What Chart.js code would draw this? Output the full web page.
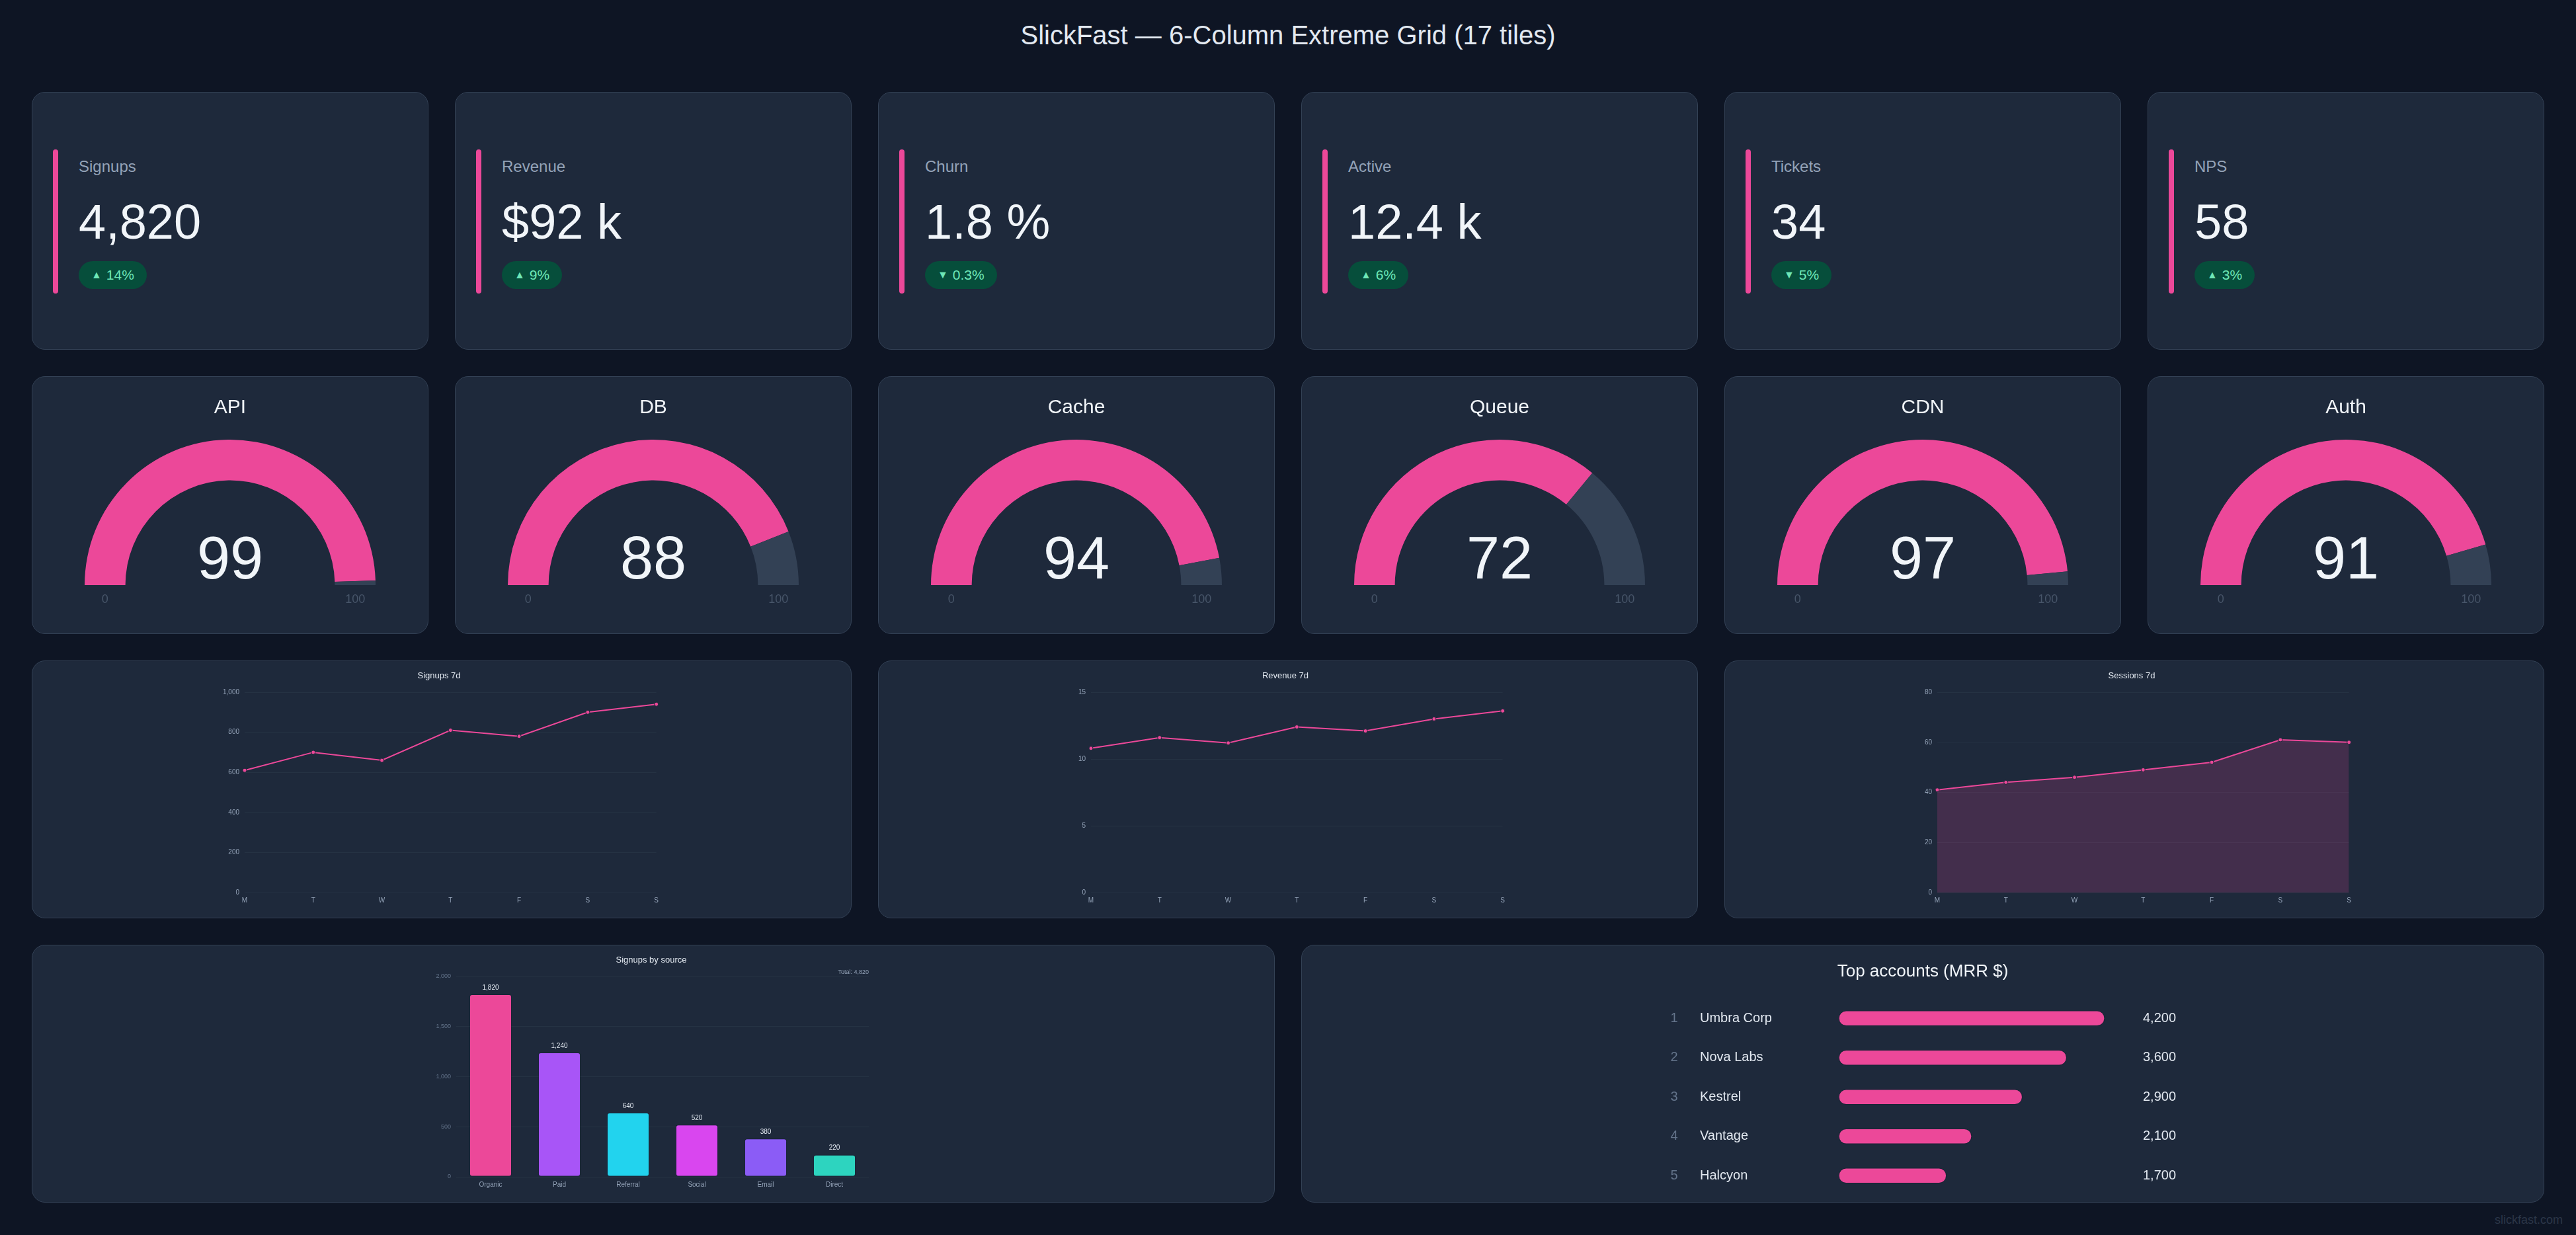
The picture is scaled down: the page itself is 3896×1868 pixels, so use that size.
<!DOCTYPE html>
<html>
<head>
<meta charset="utf-8">
<title>SlickFast — 6-Column Extreme Grid (17 tiles)</title>
<script src="https://cdn.jsdelivr.net/npm/chart.js@4.4.1/dist/chart.umd.min.js"></script>
<style>
  html, body { margin: 0; padding: 0; background: #0e1524; }
  body { width: 3896px; height: 1868px; position: relative; overflow: hidden;
         font-family: "Liberation Sans", Arial, Helvetica, sans-serif; }
  #pageTitle { position: absolute; left: 0; right: 0; top: 33px; text-align: center;
               font-size: 40px; line-height: 40px; color: #e2e8f0; }
  #grid { position: absolute; left: 48px; top: 139px; display: grid;
          grid-template-columns: repeat(6, 600px); grid-auto-rows: 390px;
          column-gap: 40px; row-gap: 40px; }
  .tile { position: relative; box-sizing: border-box; background: #1e293b;
          border: 1px solid #334155; border-radius: 20px; }
  .span2 { grid-column: span 2; }
  .span3 { grid-column: span 3; }
  .tile canvas { position: absolute; }
  .kbar { position: absolute; left: 31px; top: 86px; width: 8px; height: 218px;
          border-radius: 4px; background: #ec4899; }
  .klabel { position: absolute; left: 70px; top: 98px; font-size: 24px; line-height: 28px; color: #94a3b8; }
  .kvalue { position: absolute; left: 70px; top: 159px; font-size: 74px; line-height: 74px; color: #f1f5f9; white-space: nowrap; }
  .kbadge { position: absolute; left: 70px; top: 255px; height: 42px; box-sizing: border-box;
            padding: 0 19px; border-radius: 21px; background: #064e3b; color: #6ee7b7;
            font-size: 21px; display: flex; align-items: center; white-space: nowrap; }
  .kbadge .arr { font-size: 16px; margin-right: 7px; }
  #footer { position: absolute; right: 20px; top: 1836px; font-size: 18px; line-height: 18px; color: #2b3648; }
</style>
</head>
<body>
<div id="pageTitle">SlickFast — 6-Column Extreme Grid (17 tiles)</div>
<div id="grid"></div>
<div id="footer">slickfast.com</div>
<script>
// ---------------- DATA ----------------
const kpiLabels = ['Signups', 'Revenue', 'Churn', 'Active', 'Tickets', 'NPS'];
const kpiValues = ['4,820', '$92 k', '1.8 %', '12.4 k', '34', '58'];
const kpiDeltas = ['14%', '9%', '0.3%', '6%', '5%', '3%'];
const kpiDirections = ['up', 'up', 'down', 'up', 'down', 'up'];

const gaugeLabels = ['API', 'DB', 'Cache', 'Queue', 'CDN', 'Auth'];
const gaugeValues = [99, 88, 94, 72, 97, 91];
const gaugeRange = [0, 100];

const days = ['M', 'T', 'W', 'T', 'F', 'S', 'S'];
const signups7d = [610, 700, 660, 810, 780, 900, 940];
const revenue7d = [10.8, 11.6, 11.2, 12.4, 12.1, 13.0, 13.6];
const sessions7d = [41, 44, 46, 49, 52, 61, 60];
const signupsTicks = [0, 200, 400, 600, 800, 1000];
const revenueTicks = [0, 5, 10, 15];
const sessionsTicks = [0, 20, 40, 60, 80];

const sources = ['Organic', 'Paid', 'Referral', 'Social', 'Email', 'Direct'];
const sourceValues = [1820, 1240, 640, 520, 380, 220];
const sourceColors = ['#ec4899', '#a855f7', '#22d3ee', '#d946ef', '#8b5cf6', '#2dd4bf'];
const sourceTicks = [0, 500, 1000, 1500, 2000];
const sourceTotalLabel = 'Total: 4,820';

const accounts = ['Umbra Corp', 'Nova Labs', 'Kestrel', 'Vantage', 'Halcyon'];
const accountMRR = [4200, 3600, 2900, 2100, 1700];

// ---------------- SETUP ----------------
const FONT = '"Liberation Sans", Arial, Helvetica, sans-serif';
Chart.defaults.font.family = FONT;
Chart.defaults.animation = false;
Chart.defaults.plugins.legend.display = false;
Chart.defaults.plugins.tooltip.enabled = false;
const PINK = '#ec4899';
const fmt = v => v.toLocaleString('en-US');

const grid = document.getElementById('grid');
function makeTile(cls) {
  const t = document.createElement('div');
  t.className = 'tile' + (cls ? ' ' + cls : '');
  grid.appendChild(t);
  return t;
}
function makeCanvas(tile, left, top, w, h) {
  const c = document.createElement('canvas');
  c.width = w; c.height = h;
  c.style.left = left + 'px'; c.style.top = top + 'px';
  c.style.width = w + 'px'; c.style.height = h + 'px';
  tile.appendChild(c);
  return c;
}

// ---------------- KPI TILES ----------------
kpiLabels.forEach((lab, i) => {
  const t = makeTile();
  const bar = document.createElement('div'); bar.className = 'kbar'; t.appendChild(bar);
  const l = document.createElement('div'); l.className = 'klabel'; l.textContent = lab; t.appendChild(l);
  const v = document.createElement('div'); v.className = 'kvalue'; v.textContent = kpiValues[i]; t.appendChild(v);
  const b = document.createElement('div'); b.className = 'kbadge';
  const a = document.createElement('span'); a.className = 'arr';
  a.textContent = kpiDirections[i] === 'up' ? '▲' : '▼';
  b.appendChild(a);
  b.appendChild(document.createTextNode(kpiDeltas[i]));
  t.appendChild(b);
});

// ---------------- GAUGES ----------------
const gaugeText = {
  id: 'gaugeText',
  afterDraw(chart, args, opts) {
    const ctx = chart.ctx;
    const arc = chart.getDatasetMeta(0).data[0];
    const cx = arc.x, cy = arc.y;
    const mid = (arc.outerRadius + arc.innerRadius) / 2;
    ctx.save();
    ctx.textAlign = 'center';
    ctx.fillStyle = '#f1f5f9';
    ctx.textBaseline = 'middle';
    ctx.font = '30px ' + FONT;
    ctx.fillText(opts.title, cx, 47);
    ctx.textBaseline = 'alphabetic';
    ctx.font = '90px ' + FONT;
    ctx.fillText(String(opts.value), cx, cy - 10);
    ctx.textBaseline = 'middle';
    ctx.font = '18px ' + FONT;
    ctx.fillStyle = '#475569';
    ctx.fillText(String(opts.min), cx - mid, cy + 22);
    ctx.fillText(String(opts.max), cx + mid, cy + 22);
    ctx.restore();
  }
};
gaugeLabels.forEach((lab, i) => {
  const t = makeTile();
  const c = makeCanvas(t, 0, 0, 598, 388);
  new Chart(c, {
    type: 'doughnut',
    data: {
      labels: ['value', 'rest'],
      datasets: [{
        data: [gaugeValues[i], gaugeRange[1] - gaugeValues[i]],
        backgroundColor: [PINK, '#334155'],
        borderWidth: 0
      }]
    },
    options: {
      responsive: false,
      rotation: -90,
      circumference: 180,
      cutout: '72%',
      layout: { padding: { left: 79, right: 79, top: 95, bottom: 73 } },
      plugins: { gaugeText: { title: lab, value: gaugeValues[i], min: gaugeRange[0], max: gaugeRange[1] } }
    },
    plugins: [gaugeText]
  });
});

// ---------------- LINE CHARTS ----------------
function lineChart(title, values, ticks, filled) {
  const t = makeTile('span2');
  const c = makeCanvas(t, 285, 0, 668, 388);
  new Chart(c, {
    type: 'line',
    data: {
      labels: days,
      datasets: [{
        data: values,
        borderColor: PINK,
        borderWidth: 2,
        pointRadius: 3,
        pointBackgroundColor: PINK,
        pointBorderColor: '#1e293b',
        pointBorderWidth: 1,
        tension: 0,
        fill: filled ? 'origin' : false,
        backgroundColor: 'rgba(236,72,153,0.18)'
      }]
    },
    options: {
      responsive: false,
      layout: { padding: { left: 0, right: 8, top: 0, bottom: 18 } },
      plugins: {
        title: { display: true, text: title, color: '#e2e8f0',
                 font: { size: 13, weight: 'normal' }, padding: { top: 15, bottom: 16.4 } }
      },
      scales: {
        x: {
          grid: { display: false, drawTicks: false }, border: { display: false },
          ticks: { color: '#94a3b8', font: { size: 10 }, padding: 6, maxRotation: 0, autoSkip: false },
          afterFit(s) { s.height = 20; }
        },
        y: {
          min: ticks[0], max: ticks[ticks.length - 1],
          ticks: { stepSize: ticks[1] - ticks[0], color: '#94a3b8', font: { size: 10 }, padding: 8 },
          grid: { color: 'rgba(148,163,184,0.07)', drawTicks: false }, border: { display: false },
          afterFit(s) { s.width = 36; }
        }
      }
    }
  });
}
lineChart('Signups 7d', signups7d, signupsTicks, false);
lineChart('Revenue 7d', revenue7d, revenueTicks, false);
lineChart('Sessions 7d', sessions7d, sessionsTicks, true);

// ---------------- BAR CHART ----------------
const barValues = {
  id: 'barValues',
  afterDatasetsDraw(chart) {
    const ctx = chart.ctx;
    const meta = chart.getDatasetMeta(0);
    ctx.save();
    ctx.font = '10px ' + FONT;
    ctx.fillStyle = '#e2e8f0';
    ctx.textAlign = 'center';
    ctx.textBaseline = 'middle';
    meta.data.forEach((el, i) => {
      ctx.fillText(fmt(chart.data.datasets[0].data[i]), el.x, el.y - 10);
    });
    ctx.restore();
  }
};
{
  const t = makeTile('span3');
  const c = makeCanvas(t, 607, 0, 664, 388);
  new Chart(c, {
    type: 'bar',
    data: {
      labels: sources,
      datasets: [{
        data: sourceValues,
        backgroundColor: sourceColors,
        borderColor: 'rgba(15,23,42,0.35)',
        borderWidth: 1,
        borderRadius: 4,
        borderSkipped: false,
        categoryPercentage: 0.8,
        barPercentage: 0.77
      }]
    },
    options: {
      responsive: false,
      layout: { padding: { left: 0, right: 6, top: 0, bottom: 18 } },
      plugins: {
        title: { display: true, text: 'Signups by source', color: '#e2e8f0',
                 font: { size: 13, weight: 'normal' }, padding: { top: 15, bottom: 2 } },
        subtitle: { display: true, text: sourceTotalLabel, align: 'end', color: '#94a3b8',
                    font: { size: 9 }, padding: { top: 2.6, bottom: 0.7 } }
      },
      scales: {
        x: {
          grid: { display: false, drawTicks: false }, border: { display: false },
          ticks: { color: '#94a3b8', font: { size: 10 }, padding: 6, maxRotation: 0, autoSkip: false },
          afterFit(s) { s.height = 20; }
        },
        y: {
          min: sourceTicks[0], max: sourceTicks[sourceTicks.length - 1],
          ticks: { stepSize: sourceTicks[1] - sourceTicks[0], color: '#64748b', font: { size: 9 }, padding: 8 },
          grid: { color: 'rgba(148,163,184,0.07)', drawTicks: false }, border: { display: false },
          afterFit(s) { s.width = 34; }
        }
      }
    },
    plugins: [barValues]
  });
}

// ---------------- TOP ACCOUNTS ----------------
const accountsText = {
  id: 'accountsText',
  afterDatasetsDraw(chart) {
    const ctx = chart.ctx;
    const area = chart.chartArea;
    const meta = chart.getDatasetMeta(0);
    ctx.save();
    ctx.textBaseline = 'middle';
    ctx.fillStyle = '#f1f5f9';
    ctx.textAlign = 'center';
    ctx.font = '26px ' + FONT;
    ctx.fillText('Top accounts (MRR $)', chart.width / 2, 40);
    ctx.font = '20px ' + FONT;
    meta.data.forEach((el, i) => {
      ctx.textAlign = 'center';
      ctx.fillStyle = '#64748b';
      ctx.fillText(String(i + 1), area.left - 249, el.y);
      ctx.textAlign = 'left';
      ctx.fillStyle = '#e2e8f0';
      ctx.fillText(chart.data.labels[i], area.left - 210, el.y);
      ctx.fillText(fmt(chart.data.datasets[0].data[i]), area.right + 58, el.y);
    });
    ctx.restore();
  }
};
{
  const t = makeTile('span3');
  const c = makeCanvas(t, 0, 0, 1878, 388);
  new Chart(c, {
    type: 'bar',
    data: {
      labels: accounts,
      datasets: [{
        data: accountMRR,
        backgroundColor: PINK,
        borderColor: 'rgba(15,23,42,0.3)',
        borderWidth: 1,
        borderRadius: 12,
        borderSkipped: false,
        barThickness: 23
      }]
    },
    options: {
      indexAxis: 'y',
      responsive: false,
      layout: { padding: { left: 812, right: 664, top: 80.5, bottom: 10 } },
      scales: {
        x: { display: false, min: 0, max: Math.max(...accountMRR) },
        y: { display: false }
      }
    },
    plugins: [accountsText]
  });
}
</script>
</body>
</html>
